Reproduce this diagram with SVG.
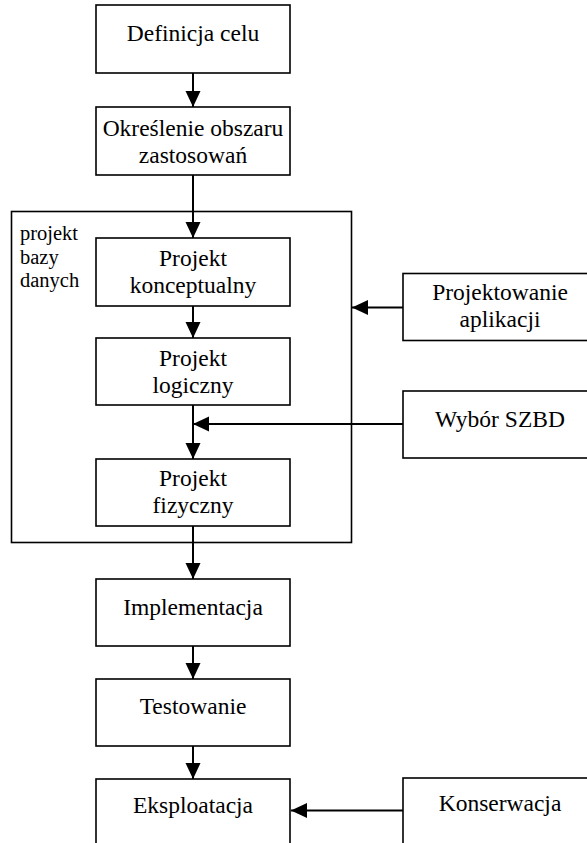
<svg xmlns="http://www.w3.org/2000/svg" width="587" height="843" viewBox="0 0 587 843">
<style>
.box{fill:#fff;stroke:#000;stroke-width:1.6}
.outer{fill:none;stroke:#000;stroke-width:1.6}
text{font-family:"Liberation Serif",serif;fill:#000}
.t{font-size:23.5px;text-anchor:middle}
.lbl{font-size:20.5px}
.c{fill:none;stroke:#000;stroke-width:2;marker-end:url(#ah)}
</style>
<defs>
<marker id="ah" markerUnits="userSpaceOnUse" markerWidth="16" markerHeight="16" refX="16" refY="8" orient="auto">
<path d="M0,0.5 L16,8 L0,15.5 z" fill="#000"/>
</marker>
</defs>
<rect width="587" height="843" fill="#fff"/>
<g font-family="Liberation Serif, serif">
<g id="grp-projekt">
<rect class="outer" x="11.5" y="211.5" width="340" height="331"/>
<text class="lbl" x="20" y="240">projekt</text>
<text class="lbl" x="20" y="263.5">bazy</text>
<text class="lbl" x="20" y="287">danych</text>
</g>
<g id="connectors">
<line class="c" x1="193" y1="73" x2="193" y2="107"/>
<line class="c" x1="193" y1="175" x2="193" y2="238"/>
<line class="c" x1="193" y1="306" x2="193" y2="338"/>
<line class="c" x1="193" y1="405" x2="193" y2="459"/>
<line class="c" x1="193" y1="526" x2="193" y2="579"/>
<line class="c" x1="193" y1="646" x2="193" y2="679"/>
<line class="c" x1="193" y1="746" x2="193" y2="779"/>
<line class="c" x1="403" y1="307.5" x2="352" y2="307.5"/>
<line class="c" x1="403" y1="424" x2="193" y2="424"/>
<line class="c" x1="403" y1="810.5" x2="291" y2="810.5"/>
</g>
<g id="n-definicja">
<rect class="box" x="96" y="5" width="194" height="68"/>
<text class="t" x="193" y="41">Definicja celu</text>
</g>
<g id="n-okreslenie">
<rect class="box" x="96" y="107" width="194" height="68"/>
<text class="t" x="193" y="136">Określenie obszaru</text>
<text class="t" x="193" y="163">zastosowań</text>
</g>
<g id="n-konceptualny">
<rect class="box" x="96" y="238" width="194" height="68"/>
<text class="t" x="193" y="265.5">Projekt</text>
<text class="t" x="193" y="292.5">konceptualny</text>
</g>
<g id="n-logiczny">
<rect class="box" x="96" y="338" width="194" height="67"/>
<text class="t" x="193" y="366">Projekt</text>
<text class="t" x="193" y="393">logiczny</text>
</g>
<g id="n-fizyczny">
<rect class="box" x="96" y="459" width="194" height="67"/>
<text class="t" x="193" y="486">Projekt</text>
<text class="t" x="193" y="513">fizyczny</text>
</g>
<g id="n-implementacja">
<rect class="box" x="96" y="579" width="194" height="67"/>
<text class="t" x="193" y="615">Implementacja</text>
</g>
<g id="n-testowanie">
<rect class="box" x="96" y="679" width="194" height="67"/>
<text class="t" x="193" y="713.5">Testowanie</text>
</g>
<g id="n-eksploatacja">
<rect class="box" x="96" y="779" width="194" height="80"/>
<text class="t" x="193" y="812.5">Eksploatacja</text>
</g>
<g id="n-projektowanie">
<rect class="box" x="403" y="273.5" width="194" height="67"/>
<text class="t" x="500" y="299.5">Projektowanie</text>
<text class="t" x="500" y="326.5">aplikacji</text>
</g>
<g id="n-wybor">
<rect class="box" x="403" y="391" width="194" height="67"/>
<text class="t" x="500" y="427">Wybór SZBD</text>
</g>
<g id="n-konserwacja">
<rect class="box" x="403" y="778" width="194" height="80"/>
<text class="t" x="500" y="811">Konserwacja</text>
</g>
</g>
</svg>
